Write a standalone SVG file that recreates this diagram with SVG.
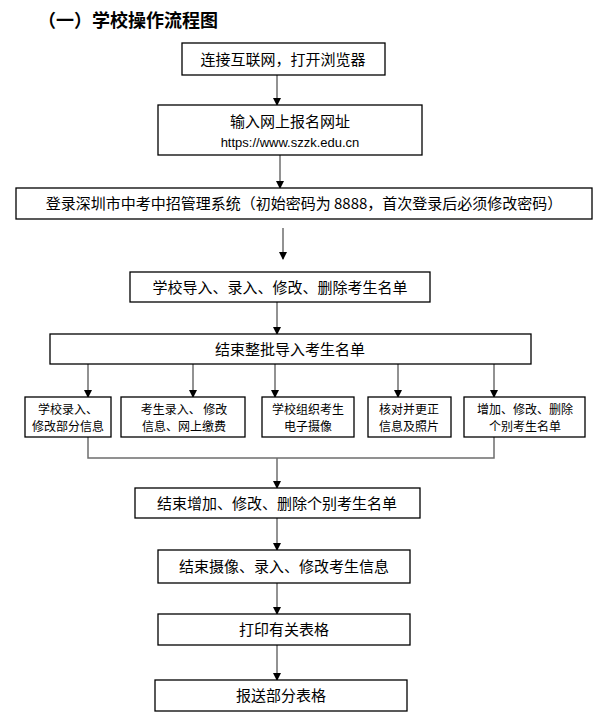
<svg xmlns="http://www.w3.org/2000/svg" width="611" height="725" viewBox="0 0 611 725">
<style>
.b{fill:#fff;stroke:#000;stroke-width:1.3}
.t{font-family:"Noto Sans CJK SC",sans-serif;font-size:15px;text-anchor:middle;fill:#000}
.s{font-family:"Noto Sans CJK SC",sans-serif;font-size:12px;text-anchor:middle;fill:#000}
.c{stroke:#6e6e6e;stroke-width:1.5;fill:none}
.a{stroke:#6e6e6e;stroke-width:1.5;fill:none;marker-end:url(#ah)}
</style>
<defs><marker id="ah" markerWidth="8" markerHeight="8" refX="7" refY="4" orient="auto" markerUnits="userSpaceOnUse"><path d="M0,0 L8,4 L0,8 Z" fill="#000"/></marker></defs>
<text x="38" y="27" font-family="Noto Sans CJK SC,sans-serif" font-size="18" font-weight="bold">（一）学校操作流程图</text>
<g id="connectors">
<line class="a" x1="277" y1="75" x2="277" y2="105"/>
<line class="a" x1="280" y1="155" x2="280" y2="188"/>
<line class="a" x1="283" y1="228" x2="283" y2="259"/>
<line class="a" x1="277" y1="302" x2="277" y2="334"/>
<line class="a" x1="88" y1="364" x2="88" y2="397"/>
<line class="a" x1="193" y1="364" x2="193" y2="397"/>
<line class="a" x1="275" y1="364" x2="275" y2="397"/>
<line class="a" x1="398" y1="364" x2="398" y2="397"/>
<line class="a" x1="494" y1="364" x2="494" y2="397"/>
<polyline class="c" points="88,437 88,458 494,458 494,437"/>
<line class="a" x1="277" y1="458" x2="277" y2="488"/>
<line class="a" x1="277" y1="518" x2="277" y2="550"/>
<line class="a" x1="277" y1="583" x2="277" y2="614"/>
<line class="a" x1="277" y1="645" x2="277" y2="680"/>
</g>
<g id="n1"><rect class="b" x="182" y="43" width="203" height="32"/><text class="t" x="283" y="65">连接互联网，打开浏览器</text></g>
<g id="n2"><rect class="b" x="158" y="105" width="264" height="50"/><text class="t" x="290" y="127">输入网上报名网址</text><text x="290" y="147" font-family="Liberation Sans,sans-serif" font-size="13" text-anchor="middle">https://www.szzk.edu.cn</text></g>
<g id="n3"><rect class="b" x="16" y="188" width="576" height="31"/><text class="t" x="304" y="209">登录深圳市中考中招管理系统（初始密码为 8888，首次登录后必须修改密码）</text></g>
<g id="n4"><rect class="b" x="130" y="272" width="300" height="30"/><text class="t" x="280" y="293">学校导入、录入、修改、删除考生名单</text></g>
<g id="n5"><rect class="b" x="50" y="334" width="481" height="30"/><text class="t" x="290" y="355">结束整批导入考生名单</text></g>
<g id="s1"><rect class="b" x="25" y="397" width="86" height="40"/><text class="s" x="68" y="414">学校录入、</text><text class="s" x="68" y="431">修改部分信息</text></g>
<g id="s2"><rect class="b" x="121" y="397" width="124" height="40"/><text class="s" x="184" y="414">考生录入、  修改</text><text class="s" x="184" y="431">信息、网上缴费</text></g>
<g id="s3"><rect class="b" x="262" y="397" width="92" height="40"/><text class="s" x="308" y="414">学校组织考生</text><text class="s" x="308" y="431">电子摄像</text></g>
<g id="s4"><rect class="b" x="368" y="397" width="83" height="40"/><text class="s" x="409" y="414">核对并更正</text><text class="s" x="409" y="431">信息及照片</text></g>
<g id="s5"><rect class="b" x="464" y="397" width="121" height="40"/><text class="s" x="525" y="414">增加、修改、删除</text><text class="s" x="525" y="431">个别考生名单</text></g>
<g id="n6"><rect class="b" x="135" y="488" width="285" height="30"/><text class="t" x="277" y="509">结束增加、修改、删除个别考生名单</text></g>
<g id="n7"><rect class="b" x="158" y="550" width="252" height="33"/><text class="t" x="284" y="572">结束摄像、录入、修改考生信息</text></g>
<g id="n8"><rect class="b" x="158" y="614" width="252" height="31"/><text class="t" x="284" y="635">打印有关表格</text></g>
<g id="n9"><rect class="b" x="155" y="680" width="252" height="31"/><text class="t" x="281" y="701">报送部分表格</text></g>
</svg>
